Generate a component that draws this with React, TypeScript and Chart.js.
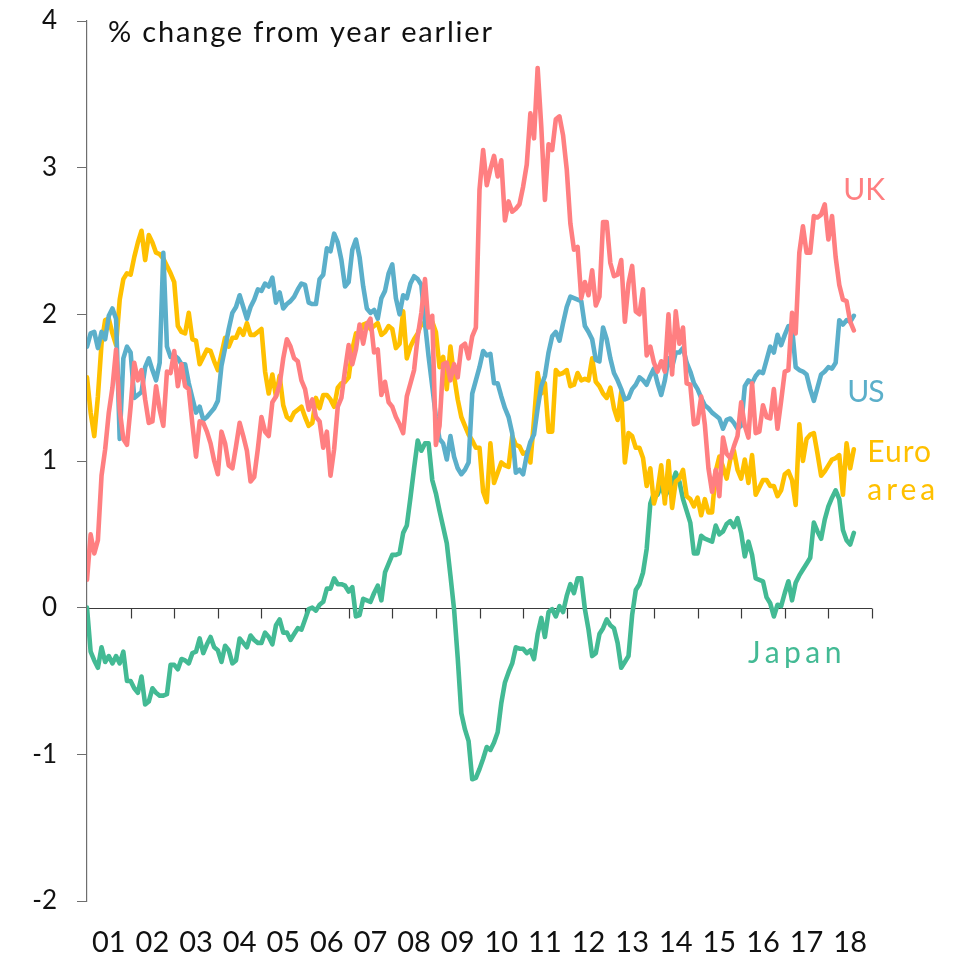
import React, { useEffect, useRef } from "react";
import { Chart, registerables } from "chart.js";

Chart.register(...registerables);

// Year labels (centred in each calendar year, data are monthly from Jan 2001)
const yearLabels = ["01","02","03","04","05","06","07","08","09","10","11","12","13","14","15","16","17","18"];
const yTicks = [-2, -1, 0, 1, 2, 3, 4];

const ukValues = [
  0.19,0.50,0.37,0.46,0.90,1.08,1.33,1.50,1.76,1.35,
  1.15,1.11,1.37,1.67,1.55,1.62,1.42,1.26,1.27,1.51,
  1.35,1.24,1.61,1.60,1.75,1.51,1.66,1.51,1.49,1.25,
  1.03,1.27,1.26,1.20,1.12,1.00,0.91,1.20,1.12,0.97,
  0.95,1.10,1.26,1.17,1.07,0.86,0.89,1.08,1.30,1.20,
  1.17,1.40,1.44,1.52,1.70,1.83,1.78,1.70,1.68,1.55,
  1.49,1.35,1.42,1.30,1.27,1.09,1.20,0.90,1.08,1.37,
  1.43,1.62,1.79,1.66,1.76,1.93,1.80,1.93,1.97,1.74,
  1.76,1.45,1.54,1.40,1.37,1.30,1.25,1.19,1.44,1.53,
  1.62,1.85,2.01,2.24,1.91,1.99,1.11,1.24,1.66,1.67,
  1.55,1.66,1.57,1.78,1.80,1.70,1.85,1.91,2.85,3.12,
  2.88,2.99,3.08,2.94,3.05,2.64,2.77,2.70,2.72,2.75,
  2.87,3.02,3.37,3.20,3.68,3.28,2.78,3.16,3.12,3.33,
  3.35,3.22,2.99,2.62,2.44,2.46,2.11,2.22,2.13,2.30,
  2.06,2.12,2.63,2.63,2.35,2.26,2.27,2.37,1.95,2.21,
  2.33,2.02,2.00,2.17,1.72,1.78,1.67,1.61,1.68,1.61,
  2.00,1.59,2.02,1.80,1.91,1.53,1.52,1.25,1.26,1.44,
  1.25,0.95,0.79,0.94,0.76,1.16,1.05,1.02,1.10,1.17,
  1.40,1.24,1.16,1.53,1.19,1.20,1.38,1.30,1.29,1.49,
  1.22,1.41,1.61,1.62,2.01,1.87,2.42,2.60,2.42,2.42,
  2.67,2.66,2.68,2.75,2.51,2.67,2.39,2.20,2.10,2.09,
  1.95,1.89
];

const usValues = [
  1.78,1.87,1.88,1.77,1.88,1.83,1.99,2.04,1.97,1.15,
  1.70,1.78,1.74,1.43,1.45,1.47,1.64,1.70,1.62,1.55,
  1.67,2.42,1.78,1.71,1.72,1.70,1.66,1.66,1.53,1.43,
  1.33,1.37,1.28,1.30,1.33,1.36,1.41,1.65,1.77,1.90,
  2.01,2.05,2.13,2.05,1.97,2.05,2.10,2.17,2.16,2.21,
  2.19,2.25,2.08,2.15,2.04,2.07,2.09,2.12,2.17,2.21,
  2.20,2.08,2.07,2.07,2.24,2.27,2.45,2.43,2.55,2.49,
  2.37,2.19,2.22,2.44,2.51,2.39,2.19,2.04,2.01,2.03,
  1.97,2.11,2.16,2.28,2.34,2.11,2.00,2.13,2.11,2.21,
  2.26,2.24,2.20,1.94,1.71,1.51,1.30,1.15,1.12,1.01,
  1.17,1.03,0.95,0.91,0.94,0.99,1.46,1.55,1.64,1.75,
  1.72,1.73,1.53,1.53,1.44,1.36,1.30,1.19,0.92,0.94,
  0.91,1.04,1.13,1.18,1.36,1.51,1.58,1.74,1.85,1.88,
  1.82,1.94,2.05,2.12,2.11,2.10,2.09,1.92,1.88,1.83,
  1.69,1.68,1.91,1.83,1.70,1.60,1.55,1.49,1.42,1.43,
  1.49,1.52,1.57,1.55,1.52,1.58,1.63,1.53,1.45,1.55,
  1.70,1.64,1.74,1.74,1.77,1.67,1.61,1.53,1.49,1.43,
  1.38,1.36,1.33,1.31,1.29,1.22,1.28,1.29,1.26,1.22,
  1.24,1.51,1.55,1.53,1.58,1.61,1.60,1.69,1.78,1.74,
  1.86,1.79,1.86,1.92,1.91,1.64,1.62,1.61,1.59,1.49,
  1.41,1.50,1.59,1.61,1.64,1.63,1.67,1.96,1.93,1.96,
  1.95,1.99
];

const euroValues = [
  1.57,1.33,1.17,1.44,1.80,1.96,1.97,1.87,1.79,2.10,
  2.24,2.28,2.27,2.39,2.49,2.57,2.37,2.54,2.49,2.42,
  2.41,2.38,2.33,2.28,2.22,1.92,1.88,1.87,2.01,1.83,
  1.82,1.66,1.71,1.76,1.75,1.68,1.62,1.73,1.84,1.78,
  1.84,1.84,1.90,1.86,1.94,1.86,1.86,1.88,1.90,1.61,
  1.46,1.59,1.44,1.58,1.38,1.30,1.28,1.33,1.35,1.37,
  1.30,1.24,1.26,1.43,1.36,1.45,1.45,1.42,1.37,1.50,
  1.53,1.54,1.57,1.76,1.87,1.86,1.93,1.94,1.90,1.92,
  1.94,1.86,1.88,1.92,1.90,1.77,1.80,2.02,1.70,1.78,
  1.83,1.87,1.94,1.92,1.92,1.95,1.88,1.64,1.71,1.49,
  1.78,1.58,1.42,1.30,1.24,1.18,1.14,1.09,1.09,0.79,
  0.72,1.12,0.85,0.92,0.99,0.97,0.96,1.17,1.11,1.10,
  1.05,1.06,0.99,1.28,1.60,1.46,1.53,1.20,1.20,1.62,
  1.59,1.60,1.62,1.51,1.52,1.60,1.55,1.56,1.55,1.70,
  1.54,1.51,1.46,1.43,1.50,1.36,1.28,1.47,0.99,1.19,
  1.17,1.09,1.09,1.02,0.83,0.95,0.71,0.80,0.97,0.71,
  1.00,0.68,0.86,0.88,0.94,0.76,0.74,0.69,0.75,0.63,
  0.74,0.65,0.65,0.93,1.03,0.96,0.88,1.01,1.07,0.94,
  0.88,1.01,0.85,1.04,0.77,0.82,0.87,0.87,0.83,0.83,
  0.76,0.80,0.91,0.93,0.87,0.70,1.25,1.00,1.15,1.18,
  1.19,1.05,0.90,0.93,0.97,1.01,1.02,1.04,0.77,1.12,
  0.95,1.08
];

const japanValues = [
  0.00,-0.30,-0.36,-0.41,-0.27,-0.37,-0.33,-0.38,-0.33,-0.38,
  -0.30,-0.50,-0.50,-0.55,-0.58,-0.47,-0.66,-0.64,-0.55,-0.58,
  -0.60,-0.60,-0.59,-0.39,-0.39,-0.42,-0.35,-0.36,-0.38,-0.31,
  -0.30,-0.21,-0.31,-0.25,-0.20,-0.27,-0.29,-0.37,-0.26,-0.29,
  -0.38,-0.36,-0.21,-0.24,-0.27,-0.19,-0.22,-0.24,-0.24,-0.17,
  -0.20,-0.25,-0.12,-0.08,-0.17,-0.17,-0.22,-0.18,-0.14,-0.15,
  -0.08,-0.01,0.00,-0.02,0.02,0.04,0.13,0.13,0.20,0.16,
  0.16,0.15,0.11,0.14,-0.06,-0.05,0.06,0.05,0.04,0.10,
  0.15,0.05,0.24,0.30,0.36,0.36,0.37,0.51,0.56,0.75,
  0.95,1.14,1.07,1.12,1.12,0.87,0.78,0.66,0.55,0.44,
  0.22,-0.01,-0.34,-0.72,-0.83,-0.91,-1.17,-1.16,-1.10,-1.03,
  -0.95,-0.97,-0.92,-0.85,-0.65,-0.51,-0.44,-0.38,-0.27,-0.28,
  -0.28,-0.31,-0.29,-0.35,-0.18,-0.07,-0.20,-0.03,-0.01,-0.06,
  0.01,-0.03,0.08,0.16,0.10,0.20,0.20,-0.01,-0.15,-0.33,
  -0.31,-0.18,-0.14,-0.08,-0.12,-0.14,-0.24,-0.41,-0.37,-0.33,
  -0.05,0.12,0.16,0.24,0.40,0.71,0.78,0.77,0.83,0.76,
  0.80,0.85,0.92,0.86,0.74,0.66,0.58,0.37,0.37,0.49,
  0.47,0.46,0.45,0.56,0.50,0.52,0.57,0.59,0.55,0.61,
  0.51,0.35,0.45,0.36,0.20,0.19,0.18,0.07,0.03,-0.06,
  0.02,0.01,0.10,0.18,0.05,0.17,0.22,0.26,0.30,0.34,
  0.58,0.52,0.47,0.60,0.69,0.75,0.80,0.74,0.53,0.46,
  0.43,0.51
];

const X_MAX_MONTHS = 216; // Jan 2001 .. Jan 2019

const COLORS = {
  uk: "#FF7F81",
  us: "#5BAFCA",
  euro: "#FFC000",
  japan: "#43BA94",
};

const FONT = "Lato, 'Noto Sans', sans-serif";

// Series labels: text, anchor in data space (month index, value at baseline)
const seriesLabels: { text: string; m: number; v: number; color: string }[] = [
  { text: "UK", m: 208.1, v: 2.78, color: COLORS.uk },
  { text: "US", m: 209.2, v: 1.40, color: COLORS.us },
  { text: "Euro", m: 214.7, v: 0.99, color: COLORS.euro },
  { text: "area", m: 214.7, v: 0.735, color: COLORS.euro },
  { text: "Japan", m: 181.9, v: -0.375, color: COLORS.japan },
];
const labelSpacing: Record<string, string> = {
  UK: "0px",
  US: "-1px",
  Euro: "1px",
  area: "4px",
  Japan: "4.5px",
};
const titleText = "% change from year earlier";

const toPoints = (arr: number[]) => arr.map((v, i) => ({ x: i, y: v }));

const zeroAxisPlugin = {
  id: "zeroAxis",
  beforeDatasetsDraw(chart: any) {
    const { ctx, scales } = chart;
    const x = scales.x;
    const y = scales.y;
    const y0 = Math.round(y.getPixelForValue(0)) + 0.5;
    ctx.save();
    ctx.strokeStyle = "#3a3a3a";
    ctx.lineWidth = 1.2;
    ctx.beginPath();
    ctx.moveTo(x.getPixelForValue(0), y0);
    ctx.lineTo(x.getPixelForValue(X_MAX_MONTHS), y0);
    for (let k = 1; k <= yearLabels.length; k++) {
      const px = Math.round(x.getPixelForValue(12 * k)) + 0.5;
      ctx.moveTo(px, y0);
      ctx.lineTo(px, y0 + 10);
    }
    ctx.stroke();
    ctx.restore();
  },
};

const textPlugin = {
  id: "texts",
  afterDatasetsDraw(chart: any) {
    const { ctx, scales } = chart;
    const x = scales.x;
    const y = scales.y;
    ctx.save();
    ctx.textAlign = "left";
    ctx.textBaseline = "alphabetic";
    ctx.font = `29px ${FONT}`;
    ctx.fillStyle = "#111111";
    (ctx as any).letterSpacing = "1.8px";
    ctx.fillText(titleText, x.getPixelForValue(5.8), y.getPixelForValue(3.858));
    ctx.font = `30px ${FONT}`;
    for (const l of seriesLabels) {
      ctx.fillStyle = l.color;
      (ctx as any).letterSpacing = labelSpacing[l.text] || "0px";
      ctx.fillText(l.text, x.getPixelForValue(l.m), y.getPixelForValue(l.v));
    }
    (ctx as any).letterSpacing = "0px";
    ctx.restore();
  },
};

export default function App() {
  const canvasRef = useRef<HTMLCanvasElement | null>(null);

  useEffect(() => {
    if (!canvasRef.current) return;
    const lineStyle = {
      borderWidth: 4.6,
      pointRadius: 0,
      pointHoverRadius: 0,
      tension: 0,
      fill: false,
      borderJoinStyle: "round" as const,
      borderCapStyle: "round" as const,
    };
    const chart = new Chart(canvasRef.current, {
      type: "line",
      data: {
        datasets: [
          { label: "UK", data: toPoints(ukValues), borderColor: COLORS.uk, backgroundColor: COLORS.uk, ...lineStyle },
          { label: "US", data: toPoints(usValues), borderColor: COLORS.us, backgroundColor: COLORS.us, ...lineStyle },
          { label: "Euro area", data: toPoints(euroValues), borderColor: COLORS.euro, backgroundColor: COLORS.euro, ...lineStyle },
          { label: "Japan", data: toPoints(japanValues), borderColor: COLORS.japan, backgroundColor: COLORS.japan, ...lineStyle },
        ],
      },
      options: {
        responsive: false,
        animation: false,
        layout: { padding: { top: 21, right: 87, left: 0, bottom: 0 } },
        plugins: {
          legend: { display: false },
          tooltip: { enabled: false },
          title: { display: false },
        },
        scales: {
          x: {
            type: "linear",
            min: 0,
            max: X_MAX_MONTHS,
            grid: { display: false, drawTicks: false },
            border: { display: false },
            afterBuildTicks: (axis: any) => {
              axis.ticks = yearLabels.map((_, i) => ({ value: 12 * i + 6 }));
            },
            afterFit: (axis: any) => {
              axis.height = 59;
              axis.paddingLeft = 0;
              axis.paddingRight = 0;
            },
            ticks: {
              autoSkip: false,
              maxRotation: 0,
              minRotation: 0,
              padding: 24,
              color: "#111111",
              font: { family: FONT, size: 29 },
              callback: (_v: any, index: number) => yearLabels[index],
            },
          },
          y: {
            type: "linear",
            min: -2,
            max: 4,
            afterBuildTicks: (axis: any) => {
              axis.ticks = yTicks.map((v) => ({ value: v }));
            },
            afterFit: (axis: any) => {
              axis.width = 87;
              axis.paddingTop = 0;
              axis.paddingBottom = 0;
            },
            grid: {
              display: true,
              drawOnChartArea: false,
              drawTicks: true,
              tickLength: 10,
              color: "#6e6e6e",
              lineWidth: 1,
            },
            border: { display: true, color: "#6e6e6e", width: 1.2 },
            ticks: {
              padding: 20,
              color: "#111111",
              font: { family: FONT, size: 26 },
              callback: (v: any) => String(v),
            },
          },
        },
      },
      plugins: [zeroAxisPlugin, textPlugin],
    });
    return () => chart.destroy();
  }, []);

  return (
    <div style={{ position: "absolute", left: 0, top: 0, width: 959, height: 960 }}>
      <canvas ref={canvasRef} width={959} height={960} style={{ display: "block" }} />
    </div>
  );
}
